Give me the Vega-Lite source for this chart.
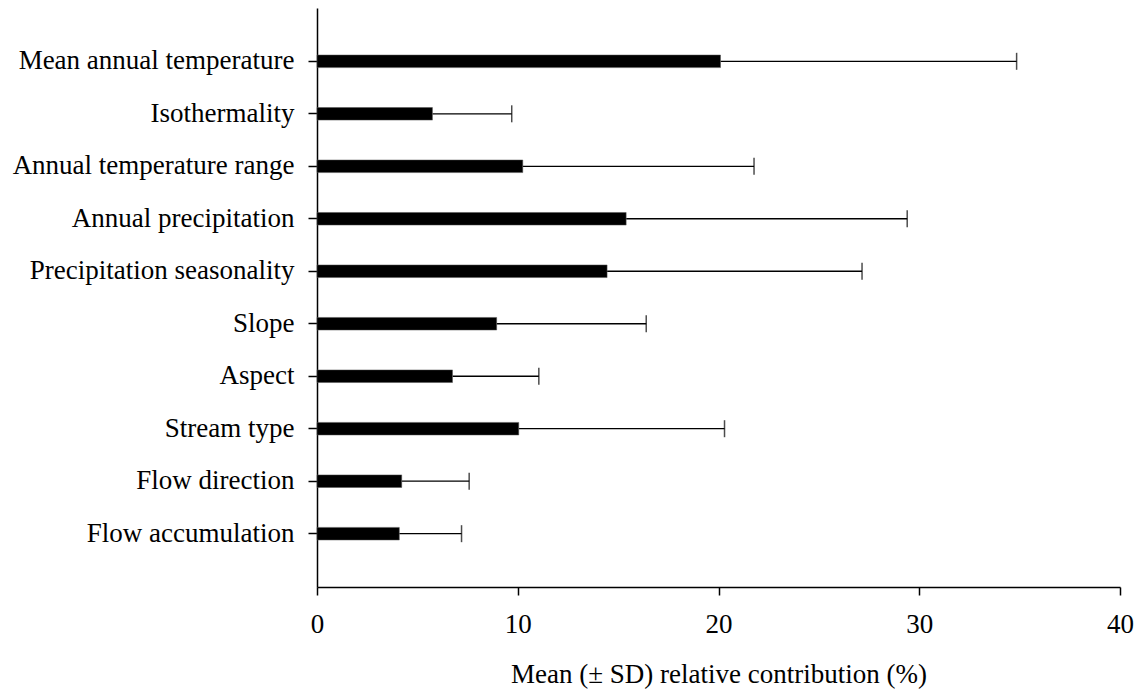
{
  "$schema": "https://vega.github.io/schema/vega-lite/v6.json",
  "autosize": {"type": "none"},
  "padding": {"left": 317, "top": 8, "right": 16, "bottom": 103},
  "width": 803,
  "height": 579,
  "background": "white",
  "config": {
    "view": {"stroke": null},
    "font": "Liberation Serif",
    "axis": {
      "grid": false,
      "domainColor": "black",
      "domainWidth": 1.5,
      "tickColor": "black",
      "tickWidth": 1.5,
      "labelColor": "black",
      "titleColor": "black",
      "labelFont": "Liberation Serif",
      "titleFont": "Liberation Serif",
      "labelFontSize": 27,
      "titleFontSize": 27,
      "titleFontWeight": "normal"
    }
  },
  "data": {
    "values": [
      {"variable": "Mean annual temperature", "mean": 20.1, "upper": 34.85},
      {"variable": "Isothermality", "mean": 5.75, "upper": 9.7},
      {"variable": "Annual temperature range", "mean": 10.25, "upper": 21.77},
      {"variable": "Annual precipitation", "mean": 15.4, "upper": 29.4},
      {"variable": "Precipitation seasonality", "mean": 14.45, "upper": 27.15},
      {"variable": "Slope", "mean": 8.95, "upper": 16.4},
      {"variable": "Aspect", "mean": 6.75, "upper": 11.05},
      {"variable": "Stream type", "mean": 10.05, "upper": 20.3},
      {"variable": "Flow direction", "mean": 4.22, "upper": 7.58},
      {"variable": "Flow accumulation", "mean": 4.1, "upper": 7.2}
    ]
  },
  "encoding": {
    "y": {
      "field": "variable",
      "type": "nominal",
      "sort": null,
      "scale": {"paddingInner": 0.76, "paddingOuter": 0.896},
      "axis": {"title": null, "tickSize": 9, "labelPadding": 14, "labelLimit": 400}
    }
  },
  "layer": [
    {
      "mark": {"type": "rule", "color": "black", "strokeWidth": 1.3},
      "encoding": {
        "x": {"field": "mean", "type": "quantitative"},
        "x2": {"field": "upper"}
      }
    },
    {
      "mark": {"type": "tick", "orient": "vertical", "color": "black", "size": 17, "thickness": 1.5},
      "encoding": {
        "x": {"field": "upper", "type": "quantitative"}
      }
    },
    {
      "mark": {"type": "bar", "color": "black", "stroke": "#555", "strokeWidth": 0.5},
      "encoding": {
        "x": {
          "field": "mean",
          "type": "quantitative",
          "scale": {"domain": [0, 40], "nice": false, "zero": true},
          "axis": {
            "title": "Mean (± SD) relative contribution (%)",
            "values": [0, 10, 20, 30, 40],
            "tickSize": 8,
            "labelFlush": false,
            "labelPadding": 16,
            "titlePadding": 24
          }
        }
      }
    }
  ]
}
